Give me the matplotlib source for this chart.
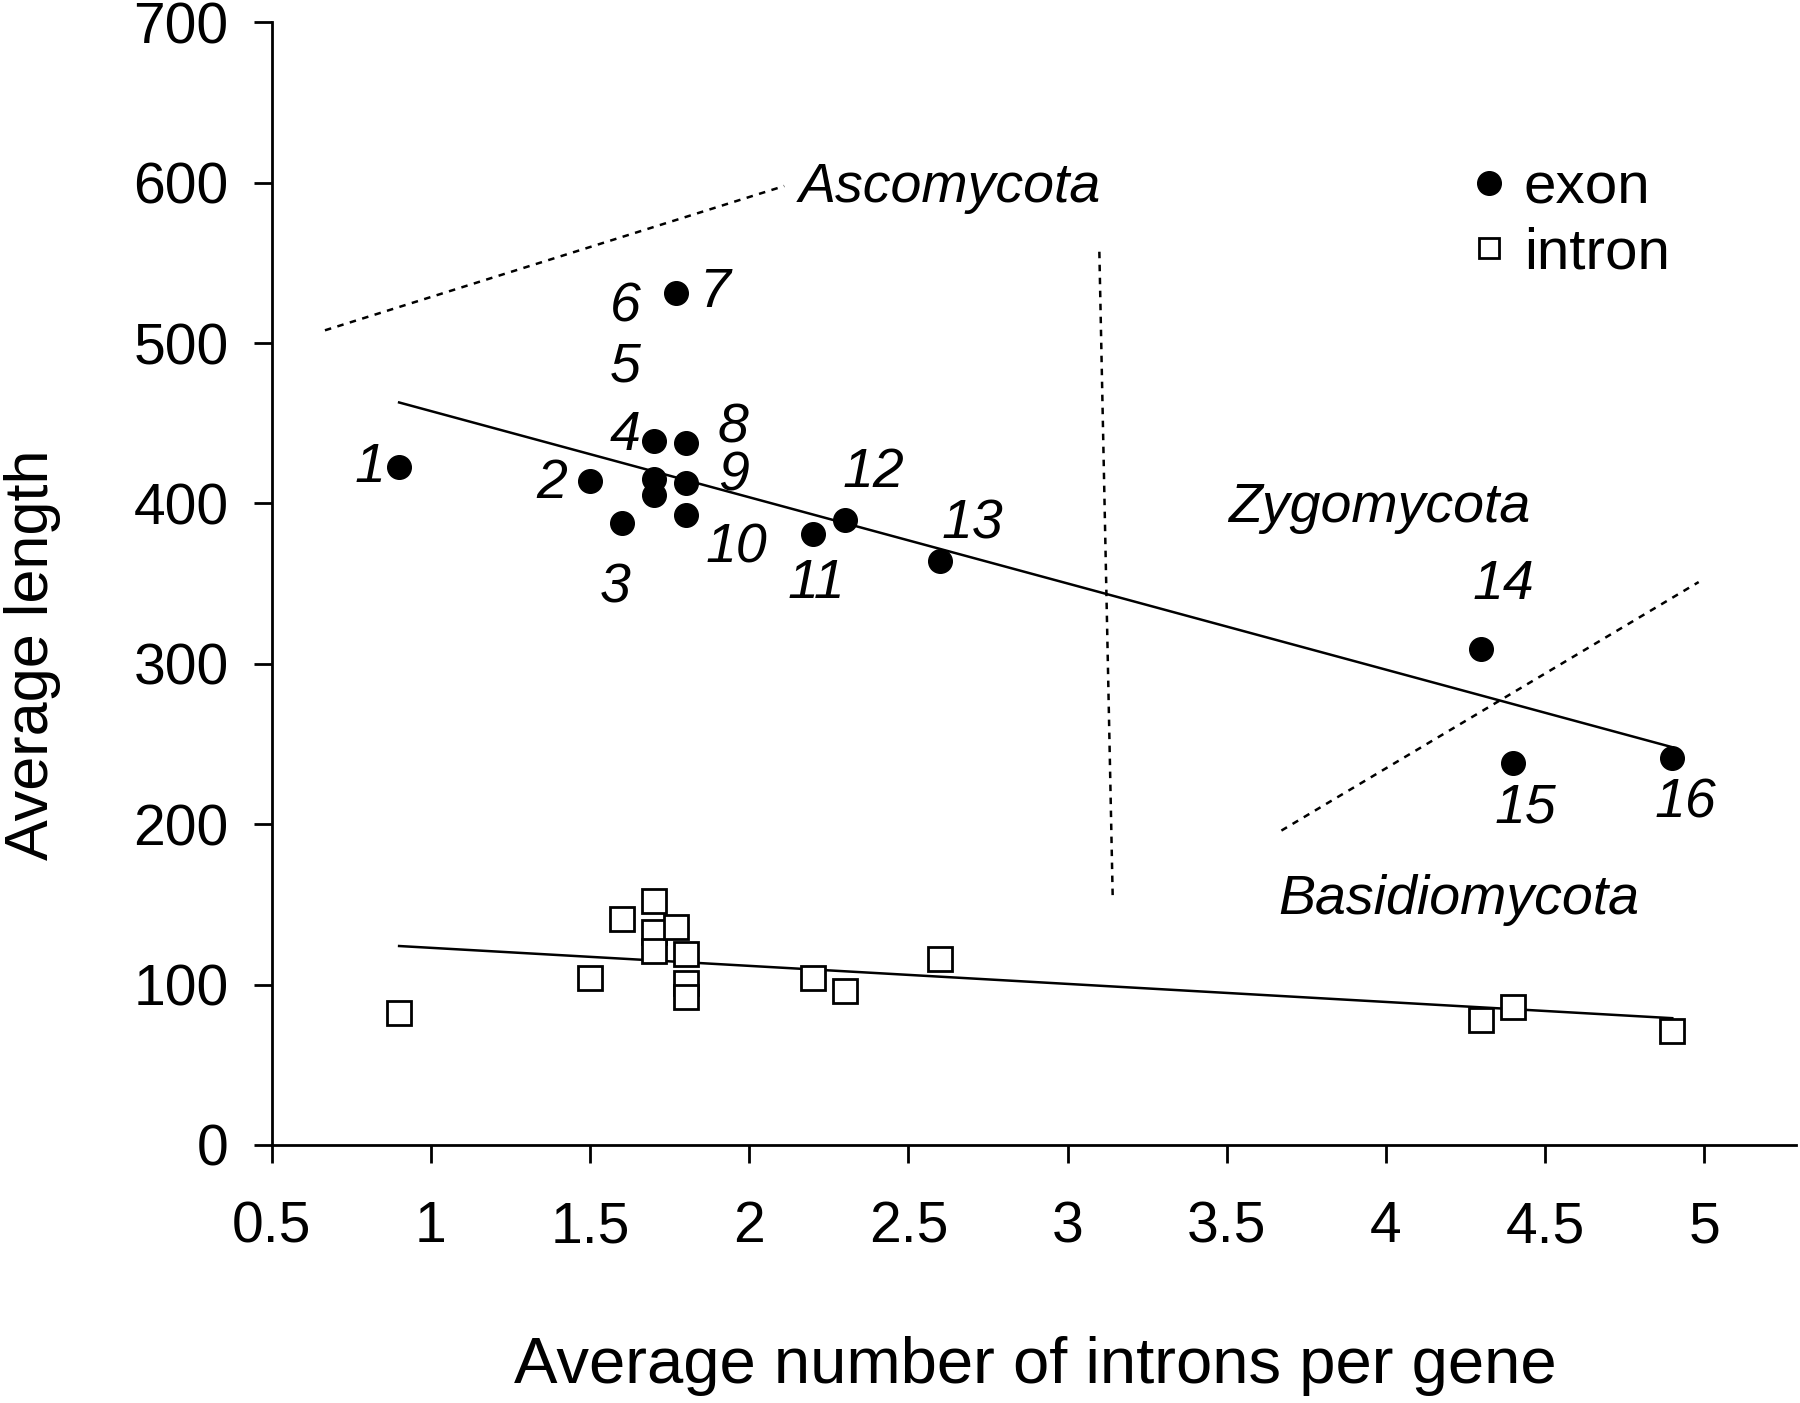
import numpy as np
import matplotlib
matplotlib.use("Agg")
import matplotlib.pyplot as plt
from matplotlib.lines import Line2D

plt.rcParams['font.family'] = ['Liberation Sans', 'DejaVu Sans']

# average number of introns per gene for the 16 species
introns_per_gene = [0.9, 1.5, 1.6, 1.7, 1.7, 1.7, 1.77, 1.8, 1.8, 1.8, 2.2, 2.3, 2.6, 4.3, 4.4, 4.9]
exon_len = [423, 414, 388, 439, 415, 405, 531, 438, 413, 393, 381, 390, 364, 309, 238, 241]
intron_len = [82, 104, 141, 152, 133, 121, 136, 119, 101, 92, 104, 96, 116, 78, 86, 71]

# regression lines (end points)
fit_x = [0.9, 4.9]
exon_fit = [463, 248]
intron_fit = [124, 79]

# species numbers and where they are written
species_labels = [str(i) for i in range(1, 17)]
label_x = [0.81, 1.38, 1.58, 1.61, 1.61, 1.61, 1.89, 1.95, 1.95, 1.96, 2.21, 2.39, 2.70, 4.37, 4.44, 4.94]
label_y = [422, 412, 347, 442, 485, 522, 531, 447, 417, 372, 350, 419, 387, 349, 210, 213]

# phylum boundaries (dashed) and names
asco_line_x, asco_line_y = [0.667, 2.11], [508, 598]
vert_line_x, vert_line_y = [3.10, 3.142], [557, 154]
diag_line_x, diag_line_y = [3.672, 4.983], [196, 351]
phyla = ['Ascomycota', 'Zygomycota', 'Basidiomycota']
phyla_x = [2.63, 3.98, 4.23]
phyla_y = [597, 397, 153]

fig = plt.figure(figsize=(18, 14.03), dpi=100)
ax = fig.add_axes([0.151, 0.184, 0.847, 0.8])

dash = (0, (2.6, 2.6))
ax.plot(asco_line_x, asco_line_y, color='black', lw=1.8, linestyle=dash)
ax.plot(vert_line_x, vert_line_y, color='black', lw=1.8, linestyle=dash)
ax.plot(diag_line_x, diag_line_y, color='black', lw=1.8, linestyle=dash)

ax.plot(fit_x, exon_fit, color='black', lw=1.8)
ax.plot(fit_x, intron_fit, color='black', lw=1.8)

ax.plot(introns_per_gene, exon_len, 'o', color='black', markersize=17, zorder=3)
ax.plot(introns_per_gene, intron_len, 's', markerfacecolor='white', markeredgecolor='black',
        markeredgewidth=2.0, markersize=17, zorder=3)

for lab, lx, ly in zip(species_labels, label_x, label_y):
    ax.text(lx, ly, lab, fontsize=40, fontstyle='italic', ha='center', va='center')

for name, px, py in zip(phyla, phyla_x, phyla_y):
    ax.text(px, py, name, fontsize=40, fontstyle='italic', ha='center', va='center')

handles = [
    Line2D([], [], marker='o', linestyle='none', color='black', markersize=17),
    Line2D([], [], marker='s', linestyle='none', markerfacecolor='white',
           markeredgecolor='black', markeredgewidth=2.0, markersize=15),
]
ax.legend(handles, ['exon', 'intron'], loc='upper left', bbox_to_anchor=(0.7695, 0.902),
          frameon=False, fontsize=42, borderpad=0, handlelength=0.5, handletextpad=0.35,
          labelspacing=0.18)

ax.set_xlim(0.5, 5.29)
ax.set_ylim(0, 700)
ax.set_xticks(np.arange(0.5, 5.01, 0.5))
ax.set_xticklabels(['0.5', '1', '1.5', '2', '2.5', '3', '3.5', '4', '4.5', '5'])
ax.set_yticks(np.arange(0, 701, 100))

for side in ['top', 'right']:
    ax.spines[side].set_visible(False)
for side in ['left', 'bottom']:
    ax.spines[side].set_linewidth(2.0)

ax.tick_params(axis='both', direction='out', length=13, width=2.0, labelsize=41)
ax.tick_params(axis='x', pad=27)
ax.tick_params(axis='y', pad=18)

ax.set_xlabel('Average number of introns per gene', fontsize=47)
ax.set_ylabel('Average length', fontsize=44)
ax.xaxis.label.set(va='center', ha='center')
ax.yaxis.label.set(va='center', ha='center')
ax.xaxis.set_label_coords(0.501, -0.197)
ax.yaxis.set_label_coords(-0.157, 0.437)

fig.savefig('out.png', dpi=100)
